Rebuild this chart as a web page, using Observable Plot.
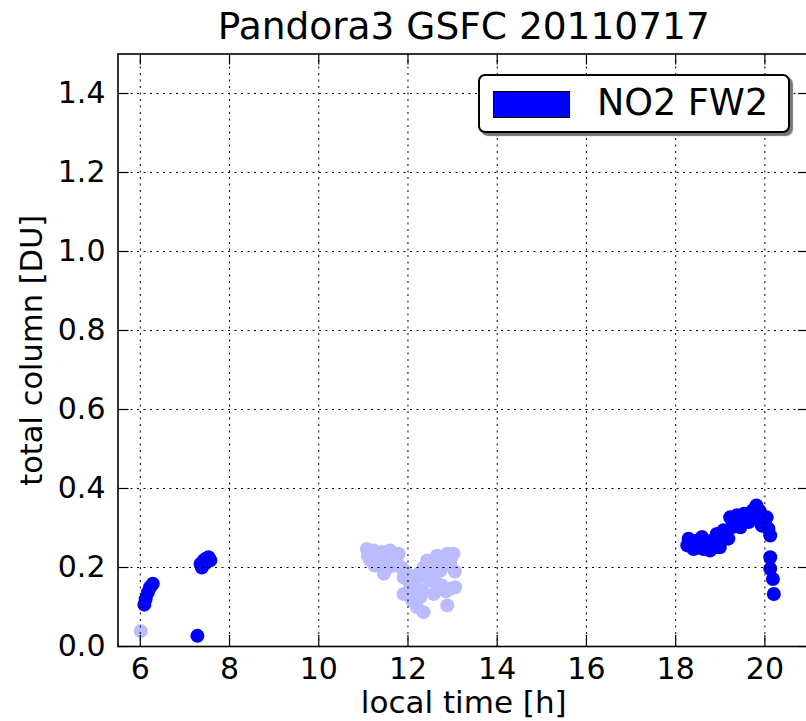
<!DOCTYPE html>
<html>
<head>
<meta charset="utf-8">
<script src="https://cdn.jsdelivr.net/npm/d3@7"></script>
<script src="https://cdn.jsdelivr.net/npm/@observablehq/plot@0.6"></script>
<style>
  html, body { margin: 0; padding: 0; overflow: hidden; background: #fff; }
  #wrap { position: relative; width: 806px; height: 721px; overflow: hidden; font-family: "DejaVu Sans", sans-serif; }
  #chart svg { max-width: none !important; height: 721px !important; display: block; }
  #legend { position: absolute; left: 478px; top: 74px; width: 312px; height: 59px; box-sizing: border-box;
            border: 2px solid #000; border-radius: 7px; background: #fff; box-shadow: 3px 3px 1px #777; }
  #swatch { position: absolute; left: 12.7px; top: 14.7px; width: 77px; height: 27px; box-sizing: border-box;
            border: 1.5px solid #000; }
  #ltext { position: absolute; left: 117px; top: 8.6px; font-size: 36.5px; line-height: 1; white-space: nowrap; color: #000; }
</style>
</head>
<body>
<div id="wrap"><div id="chart"></div>
  <div id="legend"><div id="swatch"></div><span id="ltext"></span></div>
</div>
<script>
// ---- data ----
const title = "Pandora3 GSFC 20110717";
const xLabel = "local time [h]";
const yLabel = "total column [DU]";
const legendLabel = "NO2 FW2";
const xTicks = [6, 8, 10, 12, 14, 16, 18, 20];
const yTicks = [0.0, 0.2, 0.4, 0.6, 0.8, 1.0, 1.2, 1.4];

// good-quality measurements (dark blue)
const darkTime = [6.09, 6.12, 6.17, 6.22, 6.28,
  7.28,
  7.35, 7.38, 7.42, 7.45, 7.47, 7.53, 7.57,
  18.26, 18.29, 18.35, 18.40, 18.48, 18.50, 18.59, 18.62, 18.70, 18.77, 18.81, 18.85, 18.92, 18.99,
  19.00, 19.07, 19.10, 19.18, 19.22, 19.26, 19.30, 19.37, 19.40, 19.45, 19.53, 19.60, 19.64, 19.72,
  19.75, 19.81, 19.88, 19.93, 19.95, 20.00, 20.04, 20.08, 20.12, 20.12, 20.12, 20.18, 20.20];
const darkNO2 = [0.106, 0.120, 0.137, 0.150, 0.159,
  0.027,
  0.209, 0.200, 0.218, 0.210, 0.222, 0.226, 0.218,
  0.256, 0.273, 0.262, 0.247, 0.268, 0.250, 0.277, 0.247, 0.260, 0.243, 0.268, 0.250, 0.285, 0.251,
  0.270, 0.294, 0.280, 0.273, 0.327, 0.302, 0.315, 0.332, 0.320, 0.302, 0.336, 0.330, 0.315, 0.344,
  0.330, 0.357, 0.344, 0.306, 0.330, 0.315, 0.327, 0.298, 0.281, 0.226, 0.197, 0.171, 0.133];

// flagged measurements (light blue)
const lightTime = [6.01,
  11.08, 11.23, 11.42, 11.60, 11.79, 11.15, 11.38, 11.46, 11.68, 11.86,
  11.90, 11.90, 12.05, 12.09, 12.20, 12.35, 12.24, 12.35, 12.43, 12.65,
  12.88, 13.02, 12.95, 12.73, 12.51, 12.32, 12.58, 12.95, 13.06, 12.88,
  11.10, 11.30, 11.25, 11.50, 11.55, 11.70, 11.75, 11.95, 12.00, 12.10,
  12.15, 12.28, 12.20, 12.40, 12.55, 12.70, 12.80, 12.75, 12.85, 13.05,
  12.95, 12.60];
const lightNO2 = [0.039,
  0.247, 0.243, 0.239, 0.243, 0.235, 0.218, 0.209, 0.184, 0.218, 0.200,
  0.175, 0.133, 0.150, 0.116, 0.100, 0.087, 0.184, 0.200, 0.218, 0.230,
  0.235, 0.235, 0.209, 0.192, 0.167, 0.142, 0.133, 0.146, 0.150, 0.104,
  0.230, 0.225, 0.205, 0.225, 0.200, 0.205, 0.225, 0.190, 0.170, 0.135,
  0.160, 0.125, 0.145, 0.175, 0.200, 0.225, 0.205, 0.155, 0.140, 0.190,
  0.220, 0.165];

const dark = darkTime.map((t, i) => ({t, v: darkNO2[i]}));
const light = lightTime.map((t, i) => ({t, v: lightNO2[i]}));

const W = 820, H = 721;
const mL = 117.5, mR = 11, mT = 53.5, mB = 75;
const innerW = W - mL - mR, innerH = H - mT - mB;
const tickLen = 11;
const font = "DejaVu Sans";

const chart = Plot.plot({
  width: W, height: H,
  marginLeft: mL, marginRight: mR, marginTop: mT, marginBottom: mB,
  style: {fontFamily: font, background: "white", color: "black", maxWidth: "none"},
  x: {domain: [5.5, 21]},
  y: {domain: [0, 1.5]},
  marks: [
    Plot.dot(light, {x: "t", y: "v", r: 7, fill: "#bbbbff", stroke: "none"}),
    Plot.dot(dark, {x: "t", y: "v", r: 7, fill: "#0000ff", stroke: "none"}),
    Plot.gridX(xTicks, {stroke: "black", strokeOpacity: 1, strokeWidth: 1, strokeDasharray: "2,4.5"}),
    Plot.gridY(yTicks, {stroke: "black", strokeOpacity: 1, strokeWidth: 1, strokeDasharray: "2,4.5"}),
    Plot.ruleX(xTicks, {stroke: "black", strokeWidth: 1.2, insetTop: innerH - tickLen}),
    Plot.ruleX(xTicks, {stroke: "black", strokeWidth: 1.2, insetBottom: innerH - tickLen}),
    Plot.ruleY(yTicks, {stroke: "black", strokeWidth: 1.2, insetRight: innerW - tickLen}),
    Plot.ruleY(yTicks, {stroke: "black", strokeWidth: 1.2, insetLeft: innerW - tickLen}),
    Plot.frame({stroke: "black", strokeWidth: 1.6}),
    Plot.axisX(xTicks, {tickSize: 0, tickPadding: 11, fontSize: 30, label: null}),
    Plot.axisY(yTicks, {tickSize: 0, tickPadding: 12.5, fontSize: 30, label: null, tickFormat: d3.format(".1f")}),
    Plot.text([xLabel], {text: d => d, frameAnchor: "bottom", dy: 57, lineAnchor: "middle", textAnchor: "middle", fontSize: 31, fill: "black"}),
    Plot.text([yLabel], {text: d => d, frameAnchor: "left", dx: -86, rotate: -90, lineAnchor: "middle", textAnchor: "middle", fontSize: 30.5, fill: "black"}),
    Plot.text([title], {text: d => d, frameAnchor: "top", dy: -27, lineAnchor: "middle", textAnchor: "middle", fontSize: 37.5, fill: "black"})
  ]
});
chart.style.maxWidth = "none";
document.getElementById("chart").appendChild(chart);
document.getElementById("swatch").style.background = "#0000ff";
document.getElementById("ltext").textContent = legendLabel;
</script>
</body>
</html>
